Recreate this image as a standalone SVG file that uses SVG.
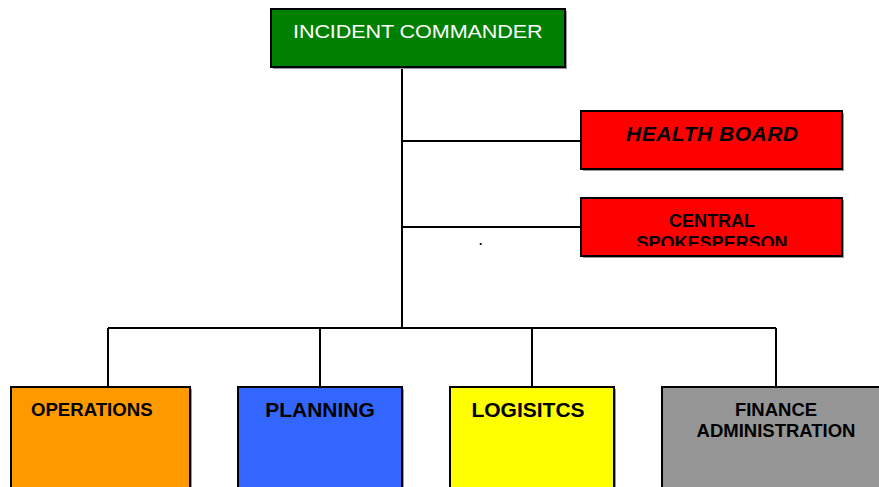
<svg xmlns="http://www.w3.org/2000/svg" width="879" height="487" viewBox="0 0 879 487">
<style>
.box{stroke:#000;stroke-width:2}
.sh{fill:#999}
.t{font-family:"Liberation Sans",Arial,sans-serif;font-weight:bold;fill:#000}
.c{stroke:#000;stroke-width:2;fill:none}
</style>
<defs>
<clipPath id="clipSpoke"><rect x="582" y="199" width="260" height="47"/></clipPath>
</defs>
<rect width="879" height="487" fill="#fff"/>
<g id="connectors">
<path class="c" d="M402 67V328M402 141H581M402 227H581M108 328H776M108 328V387M320 328V387M532 328V387M776 328V387"/>
</g>
<g id="incident-commander">
<rect class="sh" x="273" y="11" width="294" height="58"/>
<rect class="box" x="271" y="9" width="294" height="58" fill="#008000"/>
<text transform="scale(1.2 1)" x="244.2" y="38" font-family="Liberation Sans,Arial,sans-serif" font-size="18" fill="#fff" textLength="208" lengthAdjust="spacing">INCIDENT COMMANDER</text>
</g>
<g id="health-board">
<rect class="sh" x="583" y="113" width="261" height="58"/>
<rect class="box" x="581" y="111" width="261" height="58" fill="#f00"/>
<text class="t" x="626" y="141" font-size="21" font-style="italic" textLength="172" lengthAdjust="spacing">HEALTH BOARD</text>
</g>
<g id="central-spokesperson">
<rect class="sh" x="583" y="200" width="261" height="58"/>
<rect class="box" x="581" y="198" width="261" height="58" fill="#f00"/>
<g clip-path="url(#clipSpoke)">
<text class="t" x="712" y="227" font-size="18" text-anchor="middle">CENTRAL</text>
<text class="t" x="712" y="249" font-size="18" text-anchor="middle">SPOKESPERSON</text>
</g>
</g>
<text x="479" y="245" font-family="Liberation Sans,Arial,sans-serif" font-size="12" font-weight="bold" fill="#000">.</text>
<g id="operations">
<rect class="sh" x="13" y="389" width="179" height="110"/>
<rect class="box" x="11" y="387" width="179" height="110" fill="#f90"/>
<text class="t" x="31" y="416" font-size="18.6">OPERATIONS</text>
</g>
<g id="planning">
<rect class="sh" x="240" y="389" width="164" height="110"/>
<rect class="box" x="238" y="387" width="164" height="110" fill="#36f"/>
<text class="t" x="320" y="417" font-size="21" text-anchor="middle">PLANNING</text>
</g>
<g id="logistics">
<rect class="sh" x="452" y="389" width="164" height="110"/>
<rect class="box" x="450" y="387" width="164" height="110" fill="#ff0"/>
<text class="t" x="528" y="417" font-size="21" text-anchor="middle">LOGISITCS</text>
</g>
<g id="finance-administration">
<rect class="box" x="662" y="387" width="230" height="110" fill="#969696"/>
<text class="t" x="776" y="416" font-size="18.5" text-anchor="middle">FINANCE</text>
<text class="t" x="776" y="437" font-size="18.5" text-anchor="middle">ADMINISTRATION</text>
</g>
</svg>
